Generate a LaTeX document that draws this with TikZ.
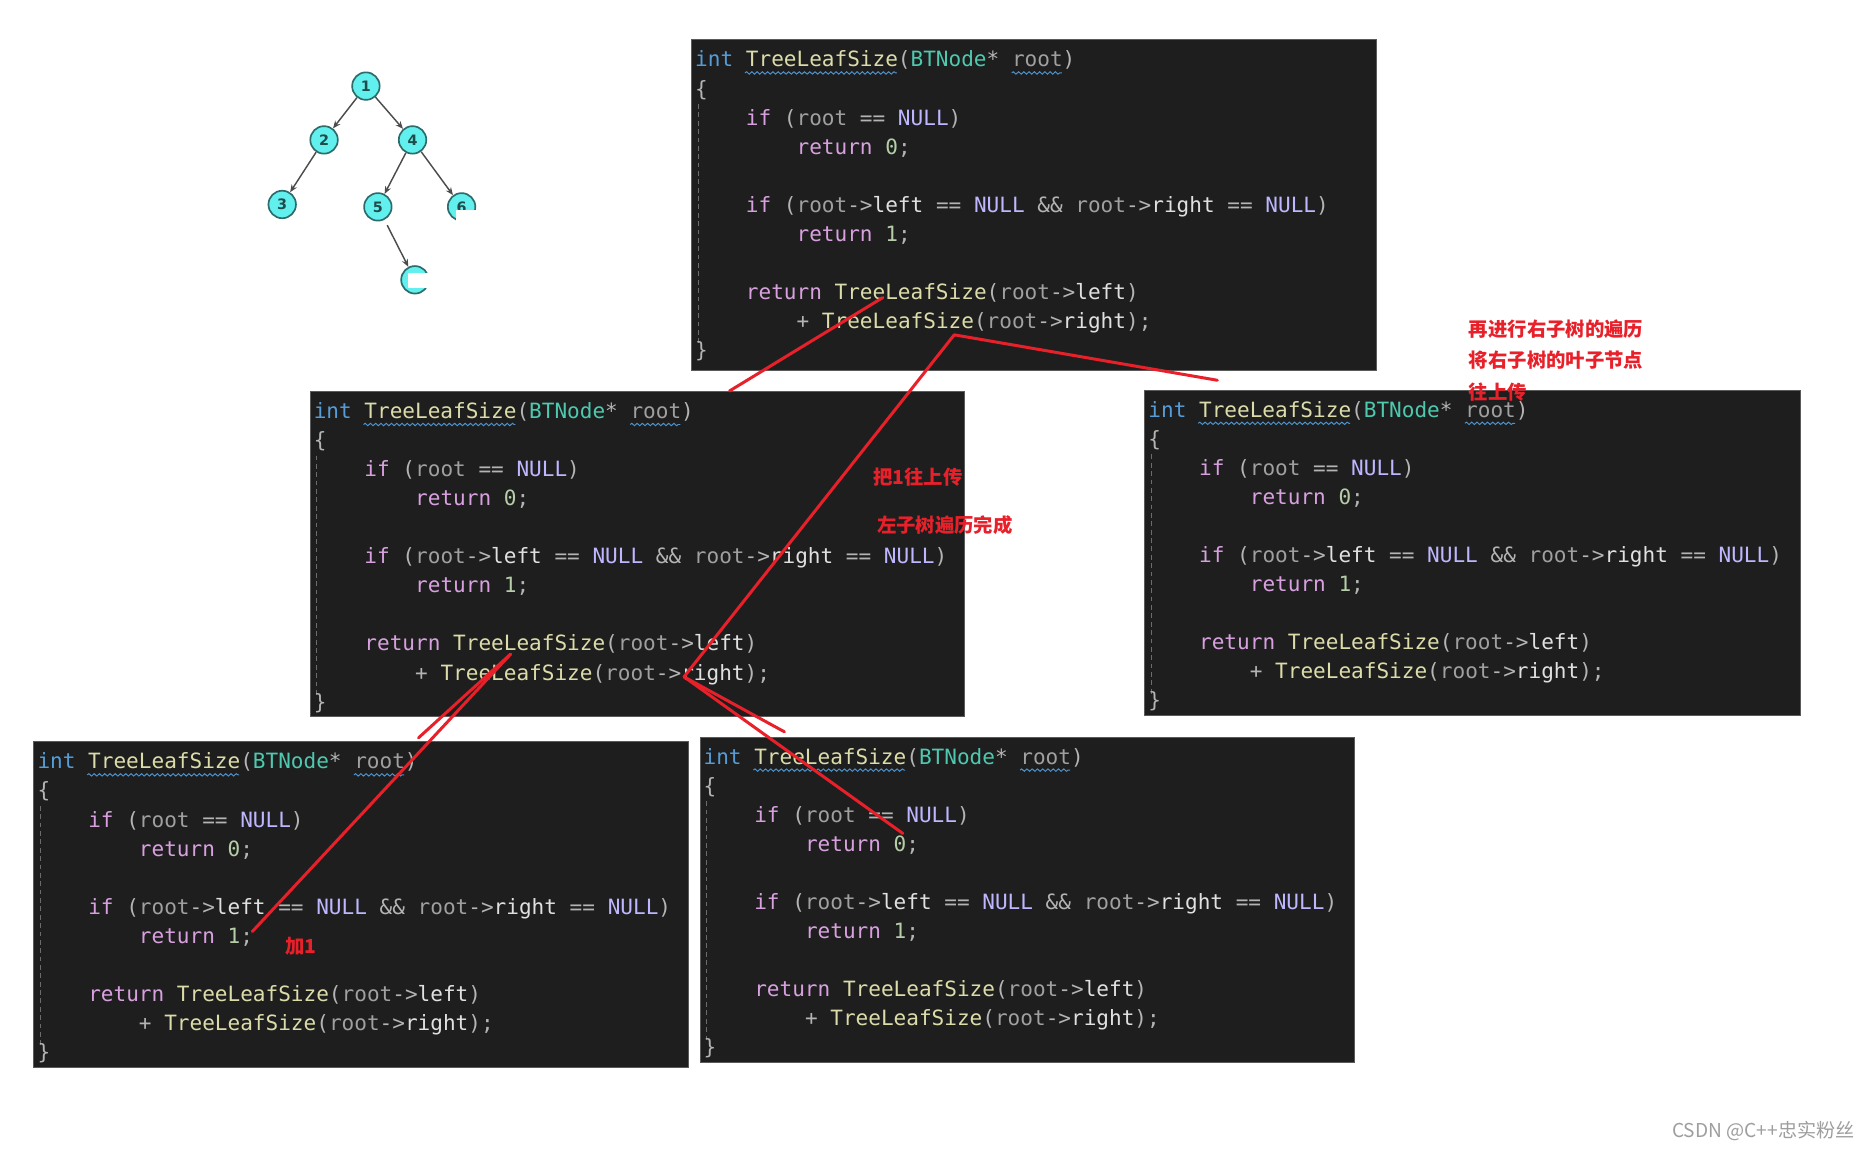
\documentclass[tikz,border=0pt]{standalone}
\usepackage{fontspec}
\usetikzlibrary{arrows.meta,decorations.pathmorphing}

\newfontfamily\codefont{DejaVu Sans Mono}
\newfontfamily\cjk{Noto Sans CJK SC}
\newfontfamily\treefont{DejaVu Sans}

% VS dark theme colours
\definecolor{codebg}{HTML}{1E1E1E}
\definecolor{codeedge}{HTML}{5A5A5A}
\definecolor{cint}{HTML}{569CD6}
\definecolor{cfn}{HTML}{DCDCAA}
\definecolor{ctype}{HTML}{4EC9B0}
\definecolor{cvar}{HTML}{A0A0A0}
\definecolor{cmem}{HTML}{E0E0E0}
\definecolor{cctl}{HTML}{D8A0DF}
\definecolor{cnull}{HTML}{BEB7FF}
\definecolor{cnum}{HTML}{B5CEA8}
\definecolor{cop}{HTML}{B4B4B4}
\definecolor{squig}{HTML}{4E94CE}
\definecolor{markred}{HTML}{E8202A}
\definecolor{nodecyan}{HTML}{62F0EE}
\definecolor{nodeedge}{HTML}{2E6B6B}

\newcommand{\cc}[2]{\textcolor{#1}{#2}}

% one code window: name, top left x, top left y, width, height
\newcommand{\codeblock}[5]{%
  \begin{scope}[shift={(#2,#3)}]
    \node[codebox, minimum width=#4*0.5pt, minimum height=#5*0.5pt] (#1) at (0,0) {};
    \draw[guide] (6,54) -- (6,256);
    \node[codeline] (#1-1) at (3,23) {\cc{cint}{int} \cc{cfn}{TreeLeafSize}\cc{cop}{(}\cc{ctype}{BTNode}\cc{cop}{*} \cc{cvar}{root}\cc{cop}{)}};
    \draw[squiggle] (45,28) -- (172,28);
    \draw[squiggle] (268,28) -- (310,28);
    \node[codeline] (#1-2) at (3,47.3) {\cc{cop}{\{}};
    \node[codeline] (#1-3) at (45.4,71.6) {\cc{cctl}{if} \cc{cop}{(}\cc{cvar}{root} \cc{cop}{==} \cc{cnull}{NULL}\cc{cop}{)}};
    \node[codeline] (#1-4) at (87.8,95.9) {\cc{cctl}{return} \cc{cnum}{0}\cc{cop}{;}};
    \node[codeline] (#1-6) at (45.4,144.5) {\cc{cctl}{if} \cc{cop}{(}\cc{cvar}{root}\cc{cop}{->}\cc{cmem}{left} \cc{cop}{==} \cc{cnull}{NULL} \cc{cop}{\&\&} \cc{cvar}{root}\cc{cop}{->}\cc{cmem}{right} \cc{cop}{==} \cc{cnull}{NULL}\cc{cop}{)}};
    \node[codeline] (#1-7) at (87.8,168.8) {\cc{cctl}{return} \cc{cnum}{1}\cc{cop}{;}};
    \node[codeline] (#1-9) at (45.4,217.4) {\cc{cctl}{return} \cc{cfn}{TreeLeafSize}\cc{cop}{(}\cc{cvar}{root}\cc{cop}{->}\cc{cmem}{left}\cc{cop}{)}};
    \node[codeline] (#1-10) at (87.8,241.7) {\cc{cop}{+} \cc{cfn}{TreeLeafSize}\cc{cop}{(}\cc{cvar}{root}\cc{cop}{->}\cc{cmem}{right}\cc{cop}{);}};
    \node[codeline] (#1-11) at (3,266) {\cc{cop}{\}}};
  \end{scope}}

\begin{document}
\begin{tikzpicture}[x=0.5pt, y=-0.5pt,
    codebox/.style={anchor=north west, fill=codebg, draw=codeedge, line width=0.4pt, inner sep=0pt},
    codeline/.style={anchor=base west, inner sep=0pt, font=\codefont\fontsize{8.8}{10}\selectfont},
    guide/.style={draw=cvar!60!codebg, dashed, dash pattern=on 2pt off 1.5pt, line width=0.4pt},
    squiggle/.style={draw=squig, line width=0.4pt, decorate, decoration={snake, amplitude=0.5pt, segment length=2.2pt}},
    treenode/.style={circle, fill=nodecyan, draw=nodeedge, line width=0.7pt, minimum size=11.5pt, inner sep=0pt,
      font=\treefont\bfseries\fontsize{6}{7}\selectfont, text=nodeedge!70!black},
    treearrow/.style={draw=black!70, line width=0.6pt, -{Stealth[length=3.2pt, width=2.6pt]}},
    note/.style={anchor=west, inner sep=0pt, text=markred, font=\cjk\bfseries\fontsize{8.1}{9}\selectfont},
    redline/.style={draw=markred, line width=1.25pt, line cap=round}]
  \useasboundingbox[fill=white] (0,0) rectangle (1568,963);

  % Binary tree
  \node[treenode] (n1) at (306,72) {1};
  \node[treenode] (n2) at (271,117) {2};
  \node[treenode] (n4) at (345,117) {4};
  \node[treenode] (n3) at (236,171) {3};
  \node[treenode] (n5) at (316,173) {5};
  \node[treenode] (n6) at (386,173) {6};
  \node[treenode] (n7) at (347,234) {7};
  \draw[treearrow] (n1) -- (n2);
  \draw[treearrow] (n1) -- (n4);
  \draw[treearrow] (n2) -- (n3);
  \draw[treearrow] (n4) -- (n5);
  \draw[treearrow] (n4) -- (n6);
  \draw[treearrow, shorten <=2.5pt] (n5) -- (n7);
  % clipped corners of the screenshot
  \fill[white] (381,176) rectangle (400,188);
  \fill[white] (341,228) rectangle (361,241);

  % Code windows
  \codeblock{blkT}{578}{33}{573}{276}
  \codeblock{blkL}{259}{327}{547}{272}
  \codeblock{blkR}{957}{326}{548}{272}
  \codeblock{blkBL}{28}{620}{547}{272}
  \codeblock{blkBM}{585}{616}{547}{272}

  % Coordinates of the red strokes
  \coordinate (tLeft) at (738,249);
  \coordinate (tRight) at (798,280);
  \coordinate (lTop) at (610,327);
  \coordinate (rTop) at (1018,318);
  \coordinate (lLeft) at (427,547);
  \coordinate (lRight) at (572,566);
  \coordinate (stubA) at (350,617);
  \coordinate (blRet) at (211,779);
  \coordinate (stubB) at (656,612);
  \coordinate (bmRet) at (755,697);

  % Red strokes
  \draw[redline] (tLeft) -- (lTop);
  \draw[redline] (tRight) -- (lRight);
  \draw[redline] (tRight) -- (rTop);
  \draw[redline] (lLeft) -- (stubA);
  \draw[redline] (lLeft) -- (blRet);
  \draw[redline] (lRight) -- (stubB);
  \draw[redline] (lRight) -- (bmRet);

  % Red notes
  \node[note] (noteR1) at (1228,275) {再进行右子树的遍历};
  \node[note] (noteR2) at (1228,301) {将右子树的叶子节点};
  \node[note] (noteR3) at (1228,328) {往上传};
  \node[note] (noteL1) at (730,399) {把1往上传};
  \node[note] (noteL2) at (733,439) {左子树遍历完成};
  \node[note] (notePlus) at (238,791) {加1};

  % Watermark
  \node[anchor=west, inner sep=0pt, text=black!38, font=\cjk\fontsize{8}{9}\selectfont] (mark) at (1398,946) {CSDN @C++忠实粉丝};
\end{tikzpicture}
\end{document}
